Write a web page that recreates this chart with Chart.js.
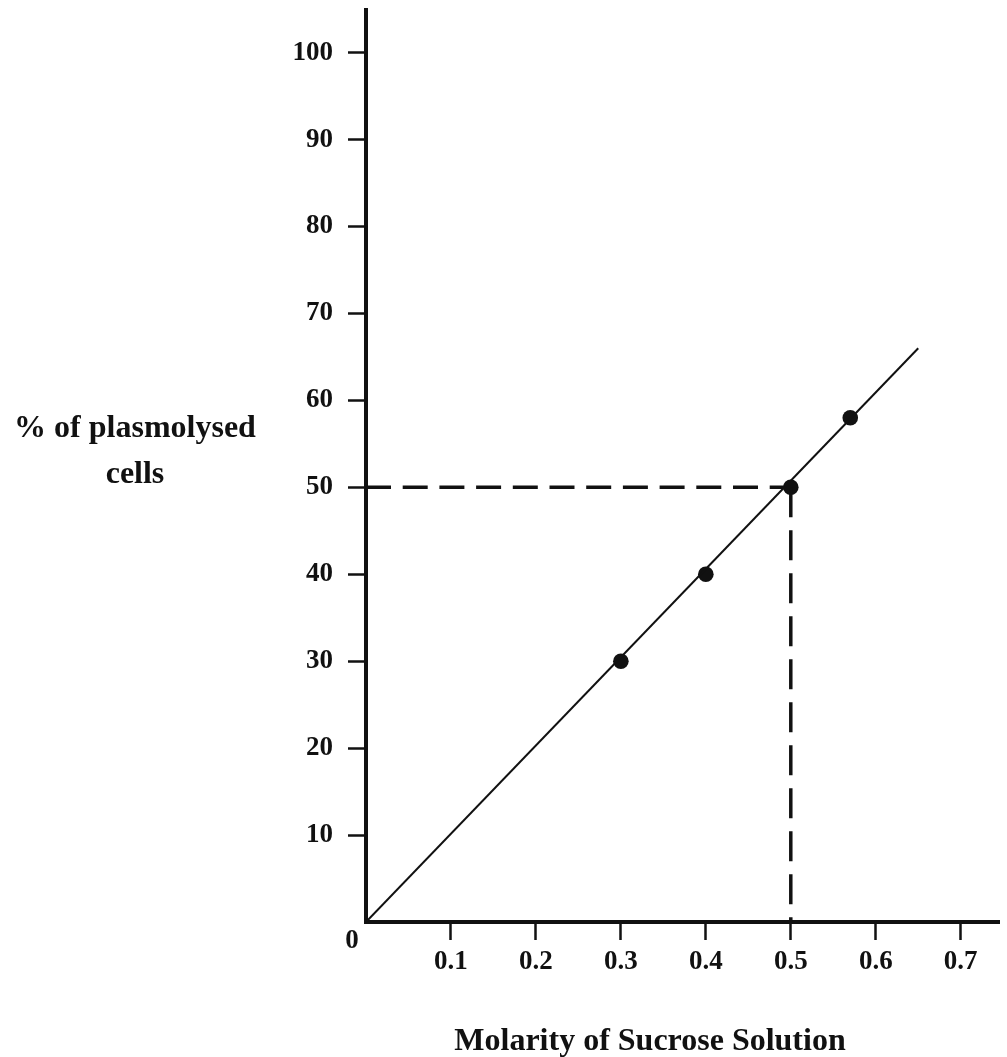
<!DOCTYPE html>
<html>
<head>
<meta charset="utf-8">
<script src="https://cdn.jsdelivr.net/npm/chart.js@4.4.1/dist/chart.umd.min.js"></script>
<style>
  html, body { margin: 0; padding: 0; background: #ffffff; overflow: hidden; }
  #wrap { width: 1007px; height: 1057px; position: relative; }
</style>
</head>
<body>
<div id="wrap"><canvas id="c"></canvas></div>
<script>
// ---- data ----
const molarity = [0.3, 0.4, 0.5, 0.57];
const plasmolysed = [30, 40, 50, 58];
const fitMolarity = [0, 0.65];
const fitPlasmolysed = [0, 66];
const readMolarity = 0.5;
const readPlasmolysed = 50;
const xTickValues = [0.1, 0.2, 0.3, 0.4, 0.5, 0.6, 0.7];
const yTickValues = [10, 20, 30, 40, 50, 60, 70, 80, 90, 100];
const xTitle = 'Molarity of Sucrose Solution';
const yTitleLines = ['% of plasmolysed', 'cells'];
const originLabel = '0';

const FONT = '"Liberation Serif", "Times New Roman", serif';
const INK = '#111111';

const textPlugin = {
  id: 'texts',
  afterDraw(chart) {
    const ctx = chart.ctx;
    const xs = chart.scales.x, ys = chart.scales.y;
    ctx.save();
    ctx.fillStyle = INK;
    // origin label
    ctx.font = 'bold 27px ' + FONT;
    ctx.textAlign = 'center';
    ctx.textBaseline = 'middle';
    ctx.fillText(originLabel, xs.getPixelForValue(0) - 14, ys.getPixelForValue(0) + 19);
    // y title (horizontal, two lines)
    ctx.font = 'bold 32px ' + FONT;
    ctx.textBaseline = 'alphabetic';
    ctx.fillText(yTitleLines[0], 135, 437);
    ctx.fillText(yTitleLines[1], 135, 483);
    // x title
    ctx.fillText(xTitle, 650, 1050);
    ctx.restore();
  }
};

new Chart(document.getElementById('c'), {
  type: 'scatter',
  data: {
    datasets: [
      {
        type: 'line',
        data: fitMolarity.map((x, i) => ({ x, y: fitPlasmolysed[i] })),
        borderColor: INK,
        borderWidth: 2,
        pointRadius: 0,
        fill: false
      },
      {
        type: 'line',
        data: [{ x: 0, y: readPlasmolysed }, { x: readMolarity, y: readPlasmolysed }],
        borderColor: INK,
        borderWidth: 3.5,
        borderDash: [25, 11.7],
        pointRadius: 0,
        fill: false
      },
      {
        type: 'line',
        data: [{ x: readMolarity, y: readPlasmolysed }, { x: readMolarity, y: 0 }],
        borderColor: INK,
        borderWidth: 3.5,
        borderDash: [30, 13],
        pointRadius: 0,
        fill: false
      },
      {
        data: molarity.map((x, i) => ({ x, y: plasmolysed[i] })),
        backgroundColor: INK,
        borderColor: INK,
        borderWidth: 0,
        pointRadius: 7.8,
        pointHoverRadius: 7.8
      }
    ]
  },
  options: {
    responsive: true,
    maintainAspectRatio: false,
    animation: false,
    devicePixelRatio: 1,
    layout: { padding: { top: 10, left: 0, right: 0, bottom: 0 } },
    plugins: {
      legend: { display: false },
      tooltip: { enabled: false }
    },
    scales: {
      x: {
        type: 'linear',
        min: 0,
        max: 0.7453,
        afterFit(scale) {
          scale.height = 135;
          scale.paddingLeft = 0; scale.paddingRight = 0;
          scale.paddingTop = 0; scale.paddingBottom = 0;
        },
        afterBuildTicks(scale) { scale.ticks = xTickValues.map(v => ({ value: v })); },
        border: { display: true, color: INK, width: 4 },
        grid: { display: true, drawOnChartArea: false, drawTicks: true, tickLength: 18, tickWidth: 2.5, tickColor: INK },
        ticks: {
          color: INK,
          padding: 6,
          font: { family: FONT, size: 27, weight: 'bold' },
          maxRotation: 0,
          autoSkip: false,
          callback: v => Number(v).toFixed(1)
        }
      },
      y: {
        type: 'linear',
        min: 0,
        max: 104.9,
        afterFit(scale) {
          scale.width = 366;
          scale.paddingLeft = 0; scale.paddingRight = 0;
          scale.paddingTop = 0; scale.paddingBottom = 0;
        },
        afterBuildTicks(scale) { scale.ticks = yTickValues.map(v => ({ value: v })); },
        border: { display: true, color: INK, width: 4 },
        grid: { display: true, drawOnChartArea: false, drawTicks: true, tickLength: 18, tickWidth: 2.5, tickColor: INK },
        ticks: {
          color: INK,
          padding: 15,
          font: { family: FONT, size: 27, weight: 'bold' },
          autoSkip: false,
          callback: v => String(v)
        }
      }
    }
  },
  plugins: [textPlugin]
});
</script>
</body>
</html>
